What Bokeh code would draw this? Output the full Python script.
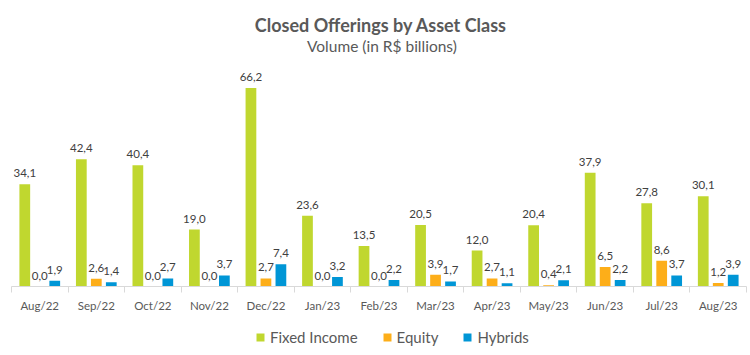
from bokeh.plotting import figure
from bokeh.layouts import column
from bokeh.models import (ColumnDataSource, FixedTicker, Range1d, Legend, LegendItem,
                          LabelSet, Label)
from bokeh.core.properties import value
from bokeh.embed import file_html
from bokeh.resources import INLINE

months = ["Aug/22", "Sep/22", "Oct/22", "Nov/22", "Dec/22", "Jan/23", "Feb/23",
          "Mar/23", "Apr/23", "May/23", "Jun/23", "Jul/23", "Aug/23"]
fixed_income = [34.1, 42.4, 40.4, 19.0, 66.2, 23.6, 13.5, 20.5, 12.0, 20.4, 37.9, 27.8, 30.1]
equity = [0.0, 2.6, 0.0, 0.0, 2.7, 0.0, 0.0, 3.9, 2.7, 0.4, 6.5, 8.6, 1.2]
hybrids = [1.9, 1.4, 2.7, 3.7, 7.4, 3.2, 2.2, 1.7, 1.1, 2.1, 2.2, 3.7, 3.9]

series_names = ["Fixed Income", "Equity", "Hybrids"]
series_values = [fixed_income, equity, hybrids]
colors = ["#c0d72f", "#fdae19", "#0096d6"]
offsets = [-0.265, 0.0, 0.265]

title_text = "Closed Offerings by Asset Class"
subtitle_text = "Volume  (in R$ billions)"

FONT = "Lato"
TXT = "#595959"


def bare(fig):
    fig.xgrid.visible = False
    fig.ygrid.visible = False
    fig.xaxis.visible = False
    fig.yaxis.visible = False
    return fig


# ---- header with title and subtitle ----
head = bare(figure(width=750, height=62, output_backend="svg", toolbar_location=None,
                   x_range=Range1d(0, 750), y_range=Range1d(0, 62), min_border=0,
                   outline_line_color=None, title=None))
head.add_layout(Label(x=377, y=62 - 24, text=title_text, text_align="center",
                      text_baseline="middle", text_font=FONT, text_font_size="18px",
                      text_font_style="bold", text_color=TXT))
head.add_layout(Label(x=380, y=62 - 45, text=subtitle_text, text_align="center",
                      text_baseline="middle", text_font=FONT, text_font_size="15.5px",
                      text_color=TXT))

# ---- main chart ----
p = figure(width=750, height=263, output_backend="svg", toolbar_location=None,
           x_range=Range1d(-0.5, 12.5), y_range=Range1d(0, 74.7),
           min_border_left=11, min_border_right=4, min_border_top=0,
           min_border_bottom=39, title=None, outline_line_color=None)

for name, vals, color, off in zip(series_names, series_values, colors, offsets):
    src = ColumnDataSource(dict(
        x=[i + off for i in range(len(months))],
        top=vals,
        lbl=[("%.1f" % v).replace(".", ",") for v in vals]))
    p.vbar(x="x", top="top", width=0.19, source=src, fill_color=color, line_color=None)
    p.add_layout(LabelSet(x="x", y="top", text="lbl", source=src, text_align="center",
                          text_baseline="bottom", y_offset=7, text_font=value(FONT),
                          text_font_size="11.5px", text_color="#404040"))

p.xgrid.visible = False
p.ygrid.visible = False
p.yaxis.visible = False

ax = p.xaxis[0]
ax.ticker = FixedTicker(ticks=list(range(len(months))),
                        minor_ticks=[i - 0.5 for i in range(len(months) + 1)])
ax.major_label_overrides = {i: m for i, m in enumerate(months)}
ax.major_tick_out = 0
ax.major_tick_in = 0
ax.minor_tick_out = 6
ax.minor_tick_in = 0
ax.minor_tick_line_color = "#d9d9d9"
ax.axis_line_color = "#d9d9d9"
ax.major_label_text_font = FONT
ax.major_label_text_font_size = "11.5px"
ax.major_label_text_color = TXT
ax.major_label_standoff = 6

# ---- legend strip (one zero-height bar per series, outside the visible range) ----
leg = bare(figure(width=750, height=30, output_backend="svg", toolbar_location=None,
                  x_range=Range1d(0, 1), y_range=Range1d(0, 1), min_border=0,
                  outline_line_color=None, title=None))
items = []
for name, color in zip(series_names, colors):
    r = leg.vbar(x=[-5], top=[0], width=0.1, fill_color=color, line_color=None)
    items.append(LegendItem(label=name, renderers=[r]))
legend = Legend(items=items, orientation="horizontal", location=(244, 9),
                label_text_font=FONT, label_text_font_size="15px",
                label_text_color=TXT, glyph_width=10, glyph_height=10,
                label_standoff=5, spacing=24, border_line_color=None,
                background_fill_alpha=0, margin=0, padding=2)
leg.add_layout(legend, "center")

layout = column(head, p, leg, spacing=0)
open("out.html", "w").write(file_html(layout, INLINE))
